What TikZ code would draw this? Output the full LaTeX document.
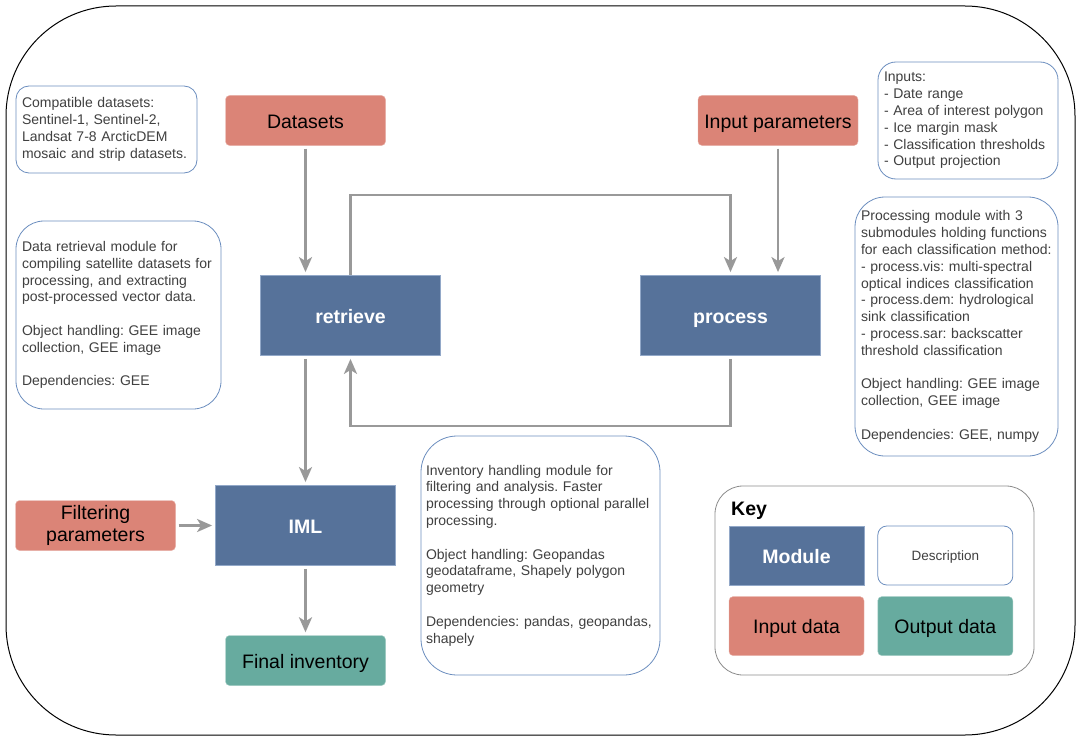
\documentclass[tikz,border=0pt]{standalone}
\usepackage{fontspec}
\setmainfont{Liberation Sans}
\usepackage{xcolor}
\usetikzlibrary{arrows.meta,positioning}

\definecolor{modblue}{RGB}{86,114,154}
\definecolor{modedge}{RGB}{146,168,200}
\definecolor{inred}{RGB}{219,132,119}
\definecolor{outgreen}{RGB}{103,171,159}
\definecolor{descblue}{RGB}{108,142,191}
\definecolor{arrgray}{RGB}{153,153,153}
\definecolor{txtgray}{RGB}{64,64,64}
\definecolor{keygray}{RGB}{140,140,140}

\frenchspacing
\hyphenpenalty=10000
\exhyphenpenalty=10000

\begin{document}
\begin{tikzpicture}[x=1pt, y=-1pt,
  module/.style={draw=modedge, fill=modblue, text=white, line width=0.8pt, minimum width=180pt, minimum height=80pt, text height=17pt, text depth=1.4pt, font=\fontsize{19.5}{22}\selectfont\bfseries},
  indata/.style={draw=inred!60!white, fill=inred, rounded corners=4pt, minimum width=160pt, minimum height=50pt, inner sep=0pt, text height=17pt, text depth=1.4pt, align=center, font=\fontsize{19.5}{22}\selectfont},
  outdata/.style={indata, draw=outgreen!60!white, fill=outgreen},
  desc/.style={draw=descblue, line width=0.8pt, text=txtgray, align=left, inner xsep=6pt, inner ysep=0pt, font=\fontsize{14}{16.8}\selectfont},
  arr/.style={-{Stealth[length=15pt, width=13pt, inset=4pt]}, draw=arrgray, line width=2.7pt, shorten >=3pt, shorten <=3pt}]
\path[fill=white, use as bounding box] (0,0) rectangle (1081,741);
\draw[line width=1pt, rounded corners=110pt] (6,6) rectangle (1075,735);

% modules and data
\node[indata] (datasets) at (305.5,120.5) {Datasets};
\node[indata] (inparams) at (778,120.5) {Input parameters};
\node[module] (retrieve) at (350.5,315.5) {retrieve};
\node[module] (process) at (730.5,315.5) {process};
\node[module] (iml) at (305.5,525.5) {IML};
\node[indata, text height={}, text depth={}] (filtparams) at (95.5,525.5) {Filtering\\parameters};
\node[outdata] (inventory) at (305.5,660.5) {Final inventory};

% descriptions
\node[desc, rounded corners=13pt, text width=169pt, minimum height=87pt] (dscdata) at (106.5,129.5)
  {Compatible datasets:\\Sentinel-1, Sentinel-2,\\Landsat 7-8 ArcticDEM\\mosaic and strip datasets.};
\node[desc, rounded corners=28pt, text width=193pt, minimum height=188pt] (dscretr) at (118.5,315)
  {Data retrieval module for\\compiling satellite datasets for\\processing, and extracting\\post-processed vector data.\\[16.8pt]Object handling: GEE image\\collection, GEE image\\[16.8pt]Dependencies: GEE};
\node[desc, rounded corners=18pt, text width=168pt, minimum height=117pt] (dscinp) at (968,120.5)
  {Inputs:\\- Date range\\- Area of interest polygon\\- Ice margin mask\\- Classification thresholds\\- Output projection};
\node[desc, rounded corners=30pt, text width=191pt, minimum height=259pt] (dscproc) at (956.5,326.5)
  {Processing module with 3\\submodules holding functions\\for each classification method:\\- process.vis: multi-spectral\\optical indices classification\\- process.dem: hydrological\\sink classification\\- process.sar: backscatter\\threshold classification\\[16.8pt]Object handling: GEE image\\collection, GEE image\\[16.8pt]Dependencies: GEE, numpy};
\node[desc, rounded corners=36pt, inner xsep=5pt, text width=229pt, minimum height=239pt] (dsciml) at (540.5,555.5)
  {Inventory handling module for\\filtering and analysis. Faster\\processing through optional parallel\\processing.\\[16.8pt]Object handling: Geopandas\\geodataframe, Shapely polygon\\geometry\\[16.8pt]Dependencies: pandas, geopandas,\\shapely};

% key
\node[draw=keygray, line width=0.8pt, rounded corners=28pt, minimum width=319pt, minimum height=189pt] (keybox) at (874.5,580.5) {};
\node[anchor=base west, inner sep=0pt, font=\fontsize{19.5}{23}\selectfont\bfseries] (keylbl) at (731,515) {Key};
\node[module, minimum width=135pt, minimum height=59pt] (kmod) at (796.5,555.5) {Module};
\node[desc, rounded corners=9pt, minimum width=135pt, minimum height=59pt, align=center, text height=11pt, text depth=1pt, font=\fontsize{13.5}{16}\selectfont, right=13pt of kmod] (kdesc) {Description};
\node[indata, minimum width=135pt, minimum height=59pt, below=11pt of kmod] (kin) {Input data};
\node[outdata, minimum width=135pt, minimum height=59pt, below=11pt of kdesc] (kout) {Output data};

% connectors
\draw[arr] (datasets.south) -- (datasets.south |- retrieve.north);
\draw[arr] (inparams.south) -- (inparams.south |- process.north);
\draw[arr, shorten <=0pt] (retrieve.north) -- ++(0,-80) -| (process.north);
\draw[arr] (process.south) -- ++(0,70) -| (retrieve.south);
\draw[arr] (iml.north |- retrieve.south) -- (iml.north);
\draw[arr] (filtparams) -- (iml);
\draw[arr] (iml) -- (inventory);
\end{tikzpicture}
\end{document}
